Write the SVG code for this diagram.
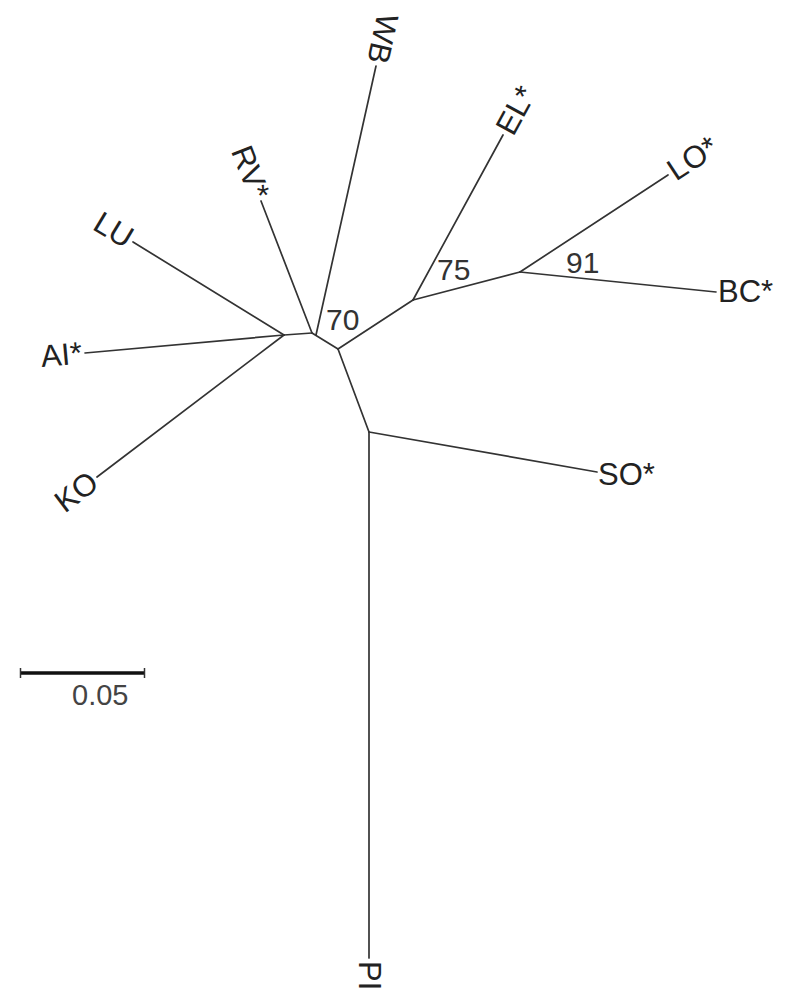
<svg xmlns="http://www.w3.org/2000/svg" width="797" height="1000" viewBox="0 0 797 1000">
<style>
.br{stroke:#333;stroke-width:1.7;fill:none;stroke-linecap:round;stroke-linejoin:round}
.lb{font-family:"Liberation Sans",Arial,sans-serif;font-size:31px;fill:#222}
.bs{font-family:"Liberation Sans",Arial,sans-serif;font-size:30px;fill:#333}
.sc{font-family:"Liberation Sans",Arial,sans-serif;font-size:29px;fill:#444}
</style>
<rect width="797" height="1000" fill="#fff"/>
<g id="connectors">
<line class="br" x1="284" y1="335" x2="133" y2="242"/>
<line class="br" x1="284" y1="335" x2="85" y2="353"/>
<line class="br" x1="284" y1="335" x2="97" y2="477"/>
<line class="br" x1="284" y1="335" x2="312" y2="333"/>
<line class="br" x1="312" y1="333" x2="261" y2="201"/>
<line class="br" x1="316" y1="335" x2="376" y2="66"/>
<line class="br" x1="312" y1="333" x2="338" y2="349"/>
<line class="br" x1="338" y1="349" x2="413" y2="300"/>
<line class="br" x1="413" y1="300" x2="503" y2="135"/>
<line class="br" x1="413" y1="300" x2="520" y2="272"/>
<line class="br" x1="520" y1="272" x2="668" y2="175"/>
<line class="br" x1="520" y1="272" x2="716" y2="292"/>
<line class="br" x1="338" y1="349" x2="369" y2="432"/>
<line class="br" x1="369" y1="432" x2="597" y2="472"/>
<line class="br" x1="369" y1="432" x2="369" y2="958"/>
</g>
<g id="LU"><text class="lb" text-anchor="end" dy="10" transform="translate(130.4,240.5) rotate(31)">LU</text></g>
<g id="AI"><text class="lb" text-anchor="end" dy="10" transform="translate(82,353.3) rotate(-5.2)">AI*</text></g>
<g id="KO"><text class="lb" text-anchor="end" dy="10" transform="translate(94.6,478.8) rotate(-37)">KO</text></g>
<g id="RV"><text class="lb" text-anchor="end" dy="10" transform="translate(260,198) rotate(68.5)">RV*</text></g>
<g id="WB"><text class="lb" text-anchor="end" dy="10" transform="translate(376.7,63) rotate(102.6)">WB</text></g>
<g id="EL"><text class="lb" text-anchor="start" dy="10" transform="translate(504.4,132.4) rotate(-61.4)">EL*</text></g>
<g id="LO"><text class="lb" text-anchor="start" dy="10" transform="translate(670.5,173.4) rotate(-33.2)">LO*</text></g>
<g id="BC"><text class="lb" text-anchor="start" dy="10" transform="translate(718,292)">BC*</text></g>
<g id="SO"><text class="lb" text-anchor="start" dy="10" transform="translate(598,475)">SO*</text></g>
<g id="PI"><text class="lb" text-anchor="start" dy="10" transform="translate(369,961) rotate(90)">PI</text></g>
<g id="bootstrap">
<text class="bs" x="326" y="330">70</text>
<text class="bs" x="437" y="280">75</text>
<text class="bs" x="566" y="273">91</text>
</g>
<g id="scalebar">
<line x1="20" y1="673" x2="145" y2="673" stroke="#111" stroke-width="3.5"/>
<line x1="20.5" y1="668" x2="20.5" y2="678" stroke="#333" stroke-width="1.5"/>
<line x1="144.5" y1="668" x2="144.5" y2="678" stroke="#333" stroke-width="1.5"/>
<text class="sc" x="72" y="705">0.05</text>
</g>
</svg>
